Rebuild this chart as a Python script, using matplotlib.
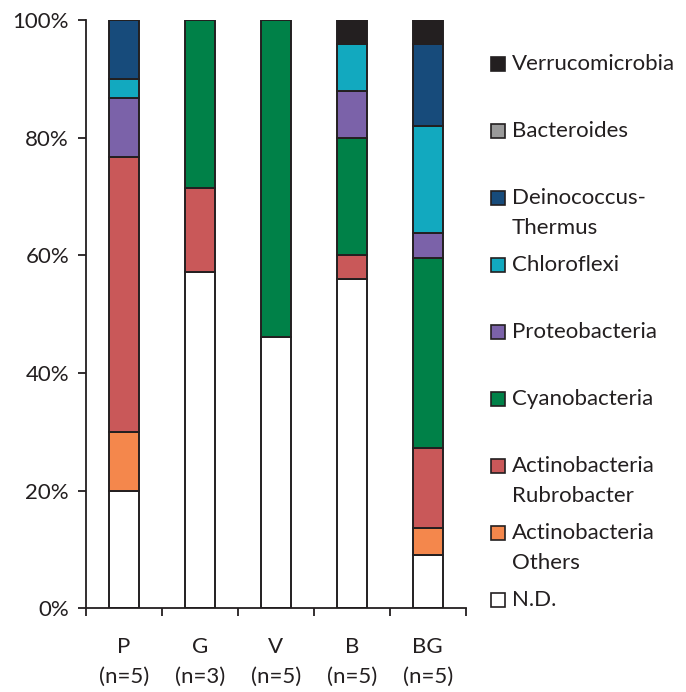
import numpy as np
import matplotlib.pyplot as plt
from matplotlib.patches import Rectangle

plt.rcParams['font.family'] = ['Lato', 'DejaVu Sans']

# sample groups
gruplar = ['P\n(n=5)', 'G\n(n=3)', 'V\n(n=5)', 'B\n(n=5)', 'BG\n(n=5)']

# relative abundance (%) per group, bottom to top
nd = [20.0, 57.1, 46.2, 56.0, 9.0]
act_others = [10.0, 0.0, 0.0, 0.0, 4.7]
act_rubro = [46.7, 14.3, 0.0, 4.0, 13.6]
cyano = [0.0, 28.6, 53.8, 20.0, 32.2]
proteo = [10.0, 0.0, 0.0, 8.0, 4.3]
chloro = [3.3, 0.0, 0.0, 8.0, 18.2]
deino = [10.0, 0.0, 0.0, 0.0, 13.9]
bacteroides = [0.0, 0.0, 0.0, 0.0, 0.0]
verruco = [0.0, 0.0, 0.0, 4.0, 4.1]

seriler = [
    ('N.D.', nd, '#ffffff'),
    ('Actinobacteria\nOthers', act_others, '#f4874c'),
    ('Actinobacteria\nRubrobacter', act_rubro, '#c95859'),
    ('Cyanobacteria', cyano, '#008148'),
    ('Proteobacteria', proteo, '#7b62a9'),
    ('Chloroflexi', chloro, '#12a9bf'),
    ('Deinococcus-\nThermus', deino, '#174b7b'),
    ('Bacteroides', bacteroides, '#9a9a9a'),
    ('Verrucomicrobia', verruco, '#231f20'),
]

fig = plt.figure(figsize=(6.86, 6.92), dpi=100)
ax = fig.add_axes([0.125, 0.121, 0.554, 0.850])

x = np.arange(len(gruplar))
alt = np.zeros(len(gruplar))
for ad, deger, renk in seriler:
    deger = np.array(deger)
    ax.bar(x, deger, bottom=alt, width=0.4, color=renk,
           edgecolor='#231f20', linewidth=1.4)
    alt += deger

ax.set_xlim(-0.5, len(gruplar) - 0.5)
ax.set_ylim(0, 100)
ax.set_yticks(np.arange(0, 101, 20))
ax.set_yticklabels([f'{v}%' for v in range(0, 101, 20)])
ax.set_xticks(x)
ax.set_xticklabels(gruplar, linespacing=1.6)
ax.set_xticks(np.arange(-0.5, len(gruplar), 1), minor=True)
ax.tick_params(axis='x', which='major', length=0, pad=21, labelsize=16, colors='#231f20')
ax.tick_params(axis='x', which='minor', length=6, width=1.3, direction='out', color='#231f20')
ax.tick_params(axis='y', length=6, width=1.3, labelsize=16, pad=6, colors='#231f20')
for s in ['top', 'right']:
    ax.spines[s].set_visible(False)
for s in ['left', 'bottom']:
    ax.spines[s].set_linewidth(1.3)
    ax.spines[s].set_color('#231f20')

# manual legend on the right, top to bottom
W, H = 686, 692
for i, (ad, deger, renk) in enumerate(reversed(seriler)):
    y_px = 64 + i * 67.0
    fig.patches.append(Rectangle((491 / W, 1 - (y_px + 7) / H), 14 / W, 14 / H,
                                 transform=fig.transFigure, facecolor=renk,
                                 edgecolor='#231f20', linewidth=1.2))
    fig.text(512 / W, 1 - (y_px - 10) / H, ad, ha='left', va='top',
             fontsize=16, color='#231f20', linespacing=1.65)

fig.savefig('out.png', dpi=100)
